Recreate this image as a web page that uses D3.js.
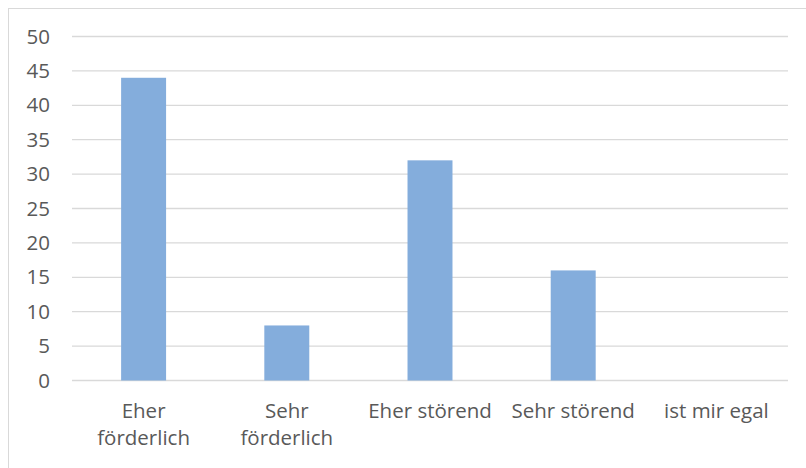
<!DOCTYPE html>
<html>
<head>
<meta charset="utf-8">
<script src="https://cdn.jsdelivr.net/npm/d3@7"></script>
<style>
  body { margin: 0; background: #fff; }
  svg { display: block; }
</style>
</head>
<body>
<div id="chart"></div>
<script>
const categories = ["Eher förderlich", "Sehr förderlich", "Eher störend", "Sehr störend", "ist mir egal"];
const values = [44, 8, 32, 16, 0];
const yTicks = [0, 5, 10, 15, 20, 25, 30, 35, 40, 45, 50];

const W = 806, H = 468;
const plot = { left: 72, right: 788, top: 36.5, bottom: 380.5 };
const fontSize = "20.5px";

const svg = d3.select("#chart").append("svg")
    .attr("width", W)
    .attr("height", H);

// chart area frame
svg.append("rect")
    .attr("x", 8.5).attr("y", 8.5)
    .attr("width", W).attr("height", H)
    .attr("fill", "#fff")
    .attr("stroke", "#d9d9d9")
    .attr("stroke-width", 1);

const x = d3.scaleBand()
    .domain(categories)
    .range([plot.left, plot.right])
    .paddingInner(0.686)
    .paddingOuter(0.343);

const y = d3.scaleLinear().domain([0, 50]).range([plot.bottom, plot.top]);

// gridlines
svg.append("g")
    .selectAll("line")
    .data(yTicks)
    .join("line")
    .attr("x1", plot.left).attr("x2", plot.right)
    .attr("y1", d => y(d)).attr("y2", d => y(d))
    .attr("stroke", "#d9d9d9")
    .attr("stroke-width", 1.3);

// y axis labels
const yAxis = svg.append("g")
    .attr("transform", `translate(${plot.left},0)`)
    .call(d3.axisLeft(y).tickValues(yTicks).tickSize(0).tickPadding(22));
yAxis.select(".domain").remove();
yAxis.selectAll("text")
    .attr("fill", "#595959")
    .style("font-family", "'Open Sans', sans-serif")
    .style("font-size", fontSize);

// bars
svg.append("g")
    .selectAll("rect")
    .data(values)
    .join("rect")
    .attr("x", (d, i) => x(categories[i]))
    .attr("y", d => y(d))
    .attr("width", x.bandwidth())
    .attr("height", d => y(0) - y(d))
    .attr("fill", "#84addc");

// category labels, wrapped to the band step
const step = x.step();
const labels = svg.append("g")
    .selectAll("text")
    .data(categories)
    .join("text")
    .attr("x", d => x(d) + x.bandwidth() / 2)
    .attr("y", 418)
    .attr("text-anchor", "middle")
    .attr("fill", "#595959")
    .style("font-family", "'Open Sans', sans-serif")
    .style("font-size", fontSize);

labels.each(function(d) {
    const t = d3.select(this);
    t.text(d);
    if (this.getComputedTextLength() > step - 8) {
        const words = d.split(" ");
        t.text(null);
        words.forEach((w, i) => {
            t.append("tspan")
                .attr("x", t.attr("x"))
                .attr("dy", i === 0 ? 0 : 27)
                .text(w);
        });
    }
});
</script>
</body>
</html>
